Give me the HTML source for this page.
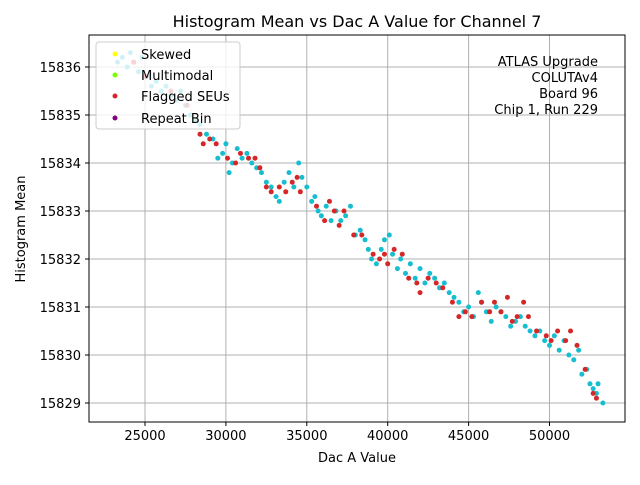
<!DOCTYPE html>
<html><head><meta charset="utf-8"><style>body{margin:0;background:#fff}svg{font-family:"DejaVu Sans","Liberation Sans",sans-serif}</style></head>
<body>
<svg id="chart" width="640" height="480">
<rect width="640" height="480" fill="#fff"/>
<g id="grid"></g><g id="pts"></g><g id="axes"></g>
<text x="357" y="27" text-anchor="middle" font-size="16">Histogram Mean vs Dac A Value for Channel 7</text>
<text x="357" y="462" text-anchor="middle" font-size="13">Dac A Value</text>
<text transform="translate(25,229) rotate(-90)" text-anchor="middle" font-size="13">Histogram Mean</text>
<g font-size="13" text-anchor="end">
<text x="598" y="66">ATLAS Upgrade</text><text x="598" y="82">COLUTAv4</text><text x="598" y="98">Board 96</text><text x="598" y="114">Chip 1, Run 229</text></g>
<g>
<rect x="96" y="42" width="144" height="87" rx="3" fill="#fff" fill-opacity="0.8" stroke="#ccc"/>
<circle cx="115" cy="54" r="2.5" fill="#ffff00"/><text x="141" y="59" font-size="13">Skewed</text>
<circle cx="115" cy="75" r="2.5" fill="#7cfc00"/><text x="141" y="80" font-size="13">Multimodal</text>
<circle cx="115" cy="96" r="2.5" fill="#d62728"/><text x="141" y="101" font-size="13">Flagged SEUs</text>
<circle cx="115" cy="118" r="2.5" fill="#800080"/><text x="141" y="123" font-size="13">Repeat Bin</text>
</g>
</svg>
<script>
const xTicks=[25000,30000,35000,40000,45000,50000];
const yTicks=[15829,15830,15831,15832,15833,15834,15835,15836];
const cyanX=[23300,23600,23900,24100,24300,24600,24800,25100,25400,25700,26000,26300,26600,26900,27200,27500,27800,28100,28400,28800,29200,29500,29800,30000,30200,30400,30700,31000,31300,31600,31900,32200,32500,32800,33100,33300,33600,33900,34200,34500,34700,35000,35300,35500,35700,35900,36200,36500,36800,37100,37400,37700,38000,38300,38600,38800,39000,39300,39600,39800,40100,40300,40600,40800,41100,41400,41700,42000,42300,42600,42900,43200,43500,43800,44100,44400,44700,45000,45300,45600,45800,46100,46400,46700,47000,47300,47600,47900,48200,48500,48800,49100,49400,49700,50000,50300,50600,50900,51200,51500,51800,52000,52300,52500,52700,52900,53000,53300];
const cyanY=[15836.1,15836.2,15836.0,15836.3,15836.1,15835.9,15836.2,15835.8,15835.6,15835.7,15835.5,15835.6,15835.4,15835.3,15835.5,15835.2,15835.0,15834.9,15834.8,15834.6,15834.5,15834.1,15834.2,15834.4,15833.8,15834.0,15834.3,15834.1,15834.2,15834.0,15833.9,15833.8,15833.6,15833.5,15833.3,15833.2,15833.6,15833.8,15833.5,15834.0,15833.7,15833.5,15833.2,15833.3,15833.0,15832.9,15833.1,15832.8,15833.0,15832.8,15832.9,15833.1,15832.5,15832.6,15832.4,15832.2,15832.0,15831.9,15832.2,15832.4,15832.5,15832.1,15831.8,15832.0,15831.7,15831.9,15831.6,15831.8,15831.5,15831.7,15831.6,15831.4,15831.5,15831.3,15831.2,15831.1,15830.9,15831.0,15830.8,15831.3,15831.1,15830.9,15830.7,15831.0,15830.9,15830.8,15830.6,15830.7,15830.8,15830.6,15830.5,15830.4,15830.5,15830.3,15830.2,15830.4,15830.1,15830.3,15830.0,15829.9,15830.1,15829.6,15829.7,15829.4,15829.3,15829.2,15829.4,15829.0];
const redX=[24300,25000,26600,27600,28400,28600,29000,29400,30100,30600,30900,31400,31800,32100,32500,32800,33300,33700,34100,34400,34600,35600,36100,36400,36700,37000,37300,37900,38400,39100,39500,39800,40000,40400,40900,41300,41800,42000,42500,43000,43400,44000,44400,44800,45200,45800,46300,46600,47000,47400,47700,48000,48400,48700,49200,49800,50100,50500,51000,51300,51700,52200,52700,52900];
const redY=[15836.1,15835.8,15835.5,15835.2,15834.6,15834.4,15834.5,15834.4,15834.1,15834.0,15834.2,15834.1,15834.1,15833.9,15833.5,15833.4,15833.5,15833.4,15833.6,15833.7,15833.4,15833.1,15832.8,15833.2,15833.0,15832.7,15833.0,15832.5,15832.5,15832.1,15832.0,15832.1,15831.9,15832.2,15832.1,15831.6,15831.5,15831.3,15831.6,15831.5,15831.4,15831.1,15830.8,15830.9,15830.8,15831.1,15830.9,15831.1,15830.9,15831.2,15830.7,15830.8,15831.1,15830.8,15830.5,15830.4,15830.3,15830.5,15830.3,15830.5,15830.2,15829.7,15829.2,15829.1];
const L=89,R=625,T=35,B=422;
const sx=v=>145+(v-25000)*(80.9/5000);
const sy=v=>67+(15836-v)*48;
const NS='http://www.w3.org/2000/svg';
function mk(tag,attrs,parent){const e=document.createElementNS(NS,tag);for(const k in attrs)e.setAttribute(k,attrs[k]);parent.appendChild(e);return e;}
const grid=document.getElementById('grid'),axes=document.getElementById('axes'),pts=document.getElementById('pts');
xTicks.forEach(t=>{const x=sx(t);
const g=mk('line',{x1:x,x2:x,y1:T,y2:B,stroke:'#b0b0b0','stroke-width':1},grid);


mk('line',{x1:x,x2:x,y1:B,y2:B+4,stroke:'#000'},axes);
const tx=mk('text',{x:x,y:B+18,'text-anchor':'middle','font-size':13},axes);tx.textContent=t;

});
yTicks.forEach(t=>{const y=sy(t);
const g=mk('line',{x1:L,x2:R,y1:y,y2:y,stroke:'#b0b0b0','stroke-width':1},grid);


mk('line',{x1:L-4,x2:L,y1:y,y2:y,stroke:'#000'},axes);
const tx=mk('text',{x:L-8,y:y+5,'text-anchor':'end','font-size':13},axes);tx.textContent=t;

});
const fr=mk('rect',{x:L,y:T,width:R-L,height:B-T,fill:'none',stroke:'#000','stroke-width':1},axes);


cyanX.forEach((v,i)=>{const c=mk('circle',{cx:sx(v),cy:sy(cyanY[i]),r:2.5,fill:'#17becf'},pts);

});
redX.forEach((v,i)=>{const c=mk('circle',{cx:sx(v),cy:sy(redY[i]),r:2.5,fill:'#d62728'},pts);

});
</script>
</body></html>
